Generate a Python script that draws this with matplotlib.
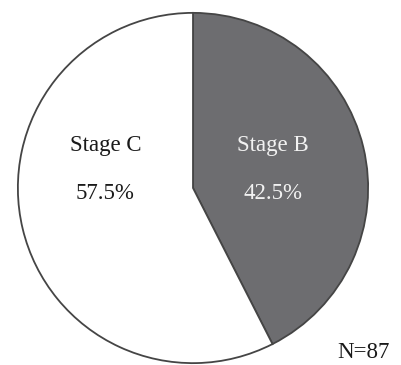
import matplotlib
matplotlib.use("Agg")
import matplotlib.pyplot as plt

# stage shares (percent)
stages = ["Stage B", "Stage C"]
shares = [42.5, 57.5]
colors = ["#6d6d70", "#ffffff"]
text_colors = ["#f2f2f2", "#1a1a1a"]
n_total = 87

plt.rcParams["font.family"] = ["Liberation Serif", "DejaVu Serif"]

fig = plt.figure(figsize=(4.02, 3.65), dpi=100)
ax = fig.add_axes([17 / 402, 1 / 365, 352 / 402, 352 / 365])

wedges, _ = ax.pie(shares, colors=colors, startangle=90, counterclock=False,
                   radius=1.0, wedgeprops=dict(edgecolor="#454545", linewidth=1.3))
ax.set_xlim(-1.005, 1.005)
ax.set_ylim(-1.005, 1.005)
ax.set_aspect("equal")
ax.axis("off")

# labels placed inside each wedge
label_x = [0.455, -0.5]
for name, val, x, tc in zip(stages, shares, label_x, text_colors):
    ax.text(x, 0.24, name, ha="center", va="center", fontsize=16.5, color=tc)
    ax.text(x, -0.031, f"{val}%", ha="center", va="center", fontsize=16.5, color=tc)

fig.text(363 / 402, 1 - 353 / 365, f"N={n_total}", ha="center", va="center",
         fontsize=16.5, color="#1a1a1a")

fig.savefig("out.png", dpi=100)
